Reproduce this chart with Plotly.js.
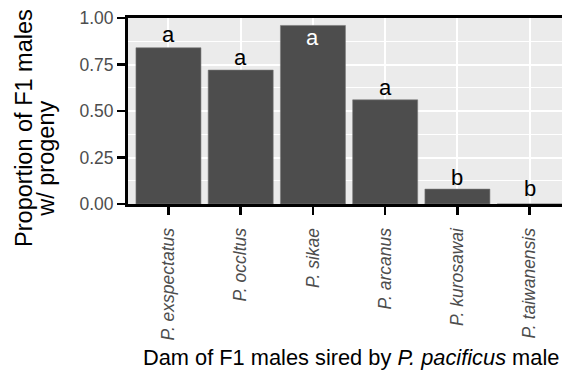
<!DOCTYPE html>
<html>
<head>
<meta charset="utf-8">
<script src="https://cdn.plot.ly/plotly-3.0.1.min.js"></script>
<style>
html, body { margin:0; padding:0; overflow:hidden; background:#fff; }
#chart { width:590px; height:374px; }
</style>
</head>
<body>
<div id="chart"></div>
<script>
// Data
var species = ["P. exspectatus", "P. occltus", "P. sikae", "P. arcanus", "P. kurosawai", "P. taiwanensis"];
var proportion = [0.84, 0.72, 0.96, 0.56, 0.08, 0.0];
var groupLabels = ["a", "a", "a", "a", "b", "b"];
var labelY = [0.91, 0.79, 0.895, 0.625, 0.14, 0.085];
var labelColors = ["black", "black", "white", "black", "black", "black"];
var yTickVals = [0, 0.25, 0.5, 0.75, 1.0];
var yTickText = ["0.00", "0.25", "0.50", "0.75", "1.00"];

var FONT = "Liberation Sans, Arial, Helvetica, sans-serif";
var idx = species.map(function(_, i){ return i; });

var trace = {
  type: "bar",
  x: idx,
  y: proportion,
  width: 0.9,
  marker: { color: "#4d4d4d", line: { color: "#7a7a7a", width: 0.6 } },
  hoverinfo: "skip"
};

var annotations = groupLabels.map(function(t, i){
  return {
    x: i, y: labelY[i], xref: "x", yref: "y",
    text: t, showarrow: false, xanchor: "center", yanchor: "middle",
    font: { family: FONT, size: 22, color: labelColors[i] }
  };
});

annotations.push({
  xref: "paper", yref: "paper", x: -0.2337, y: 0.409,
  text: "Proportion of F1 males", textangle: -90, showarrow: false,
  xanchor: "center", yanchor: "middle",
  font: { family: FONT, size: 23.5, color: "black" }
});
annotations.push({
  xref: "paper", yref: "paper", x: -0.1843, y: 0.2433,
  text: "w/ progeny", textangle: -90, showarrow: false,
  xanchor: "center", yanchor: "middle",
  font: { family: FONT, size: 23.5, color: "black" }
});
annotations.push({
  xref: "paper", yref: "paper", x: 0.5, y: -0.826,
  text: "Dam of F1 males sired by <i>P. pacificus</i> male", showarrow: false,
  xanchor: "center", yanchor: "middle",
  font: { family: FONT, size: 21.8, color: "black" }
});

var layout = {
  width: 590, height: 374,
  margin: { l: 128, r: 17, t: 17.5, b: 169.5, pad: 0 },
  paper_bgcolor: "white",
  plot_bgcolor: "#EBEBEB",
  showlegend: false,
  bargap: 0.1,
  xaxis: {
    type: "linear",
    range: [-0.56, 5.6],
    tickvals: idx,
    ticktext: species.map(function(s){ return "<i>" + s + "</i>"; }),
    tickangle: -90,
    ticklabelstandoff: 6,
    tickfont: { family: FONT, size: 17.5, color: "#4d4d4d" },
    ticks: "outside", ticklen: 8, tickwidth: 2.5, tickcolor: "black",
    showline: true, linecolor: "black", linewidth: 3, mirror: true,
    showgrid: true, gridcolor: "white", gridwidth: 2,
    zeroline: false, fixedrange: true
  },
  yaxis: {
    range: [0, 1],
    tickvals: yTickVals, ticktext: yTickText,
    tickfont: { family: FONT, size: 17.5, color: "#4d4d4d" },
    ticks: "outside", ticklen: 8, tickwidth: 2.5, tickcolor: "black",
    showline: true, linecolor: "black", linewidth: 3, mirror: true,
    showgrid: true, gridcolor: "white", gridwidth: 2,
    minor: { tickvals: [0.125, 0.375, 0.625, 0.875], showgrid: true, gridcolor: "white", gridwidth: 1, ticks: "" },
    zeroline: false, fixedrange: true
  },
  annotations: annotations
};

Plotly.newPlot("chart", [trace], layout, { staticPlot: true, displayModeBar: false });
</script>
</body>
</html>
